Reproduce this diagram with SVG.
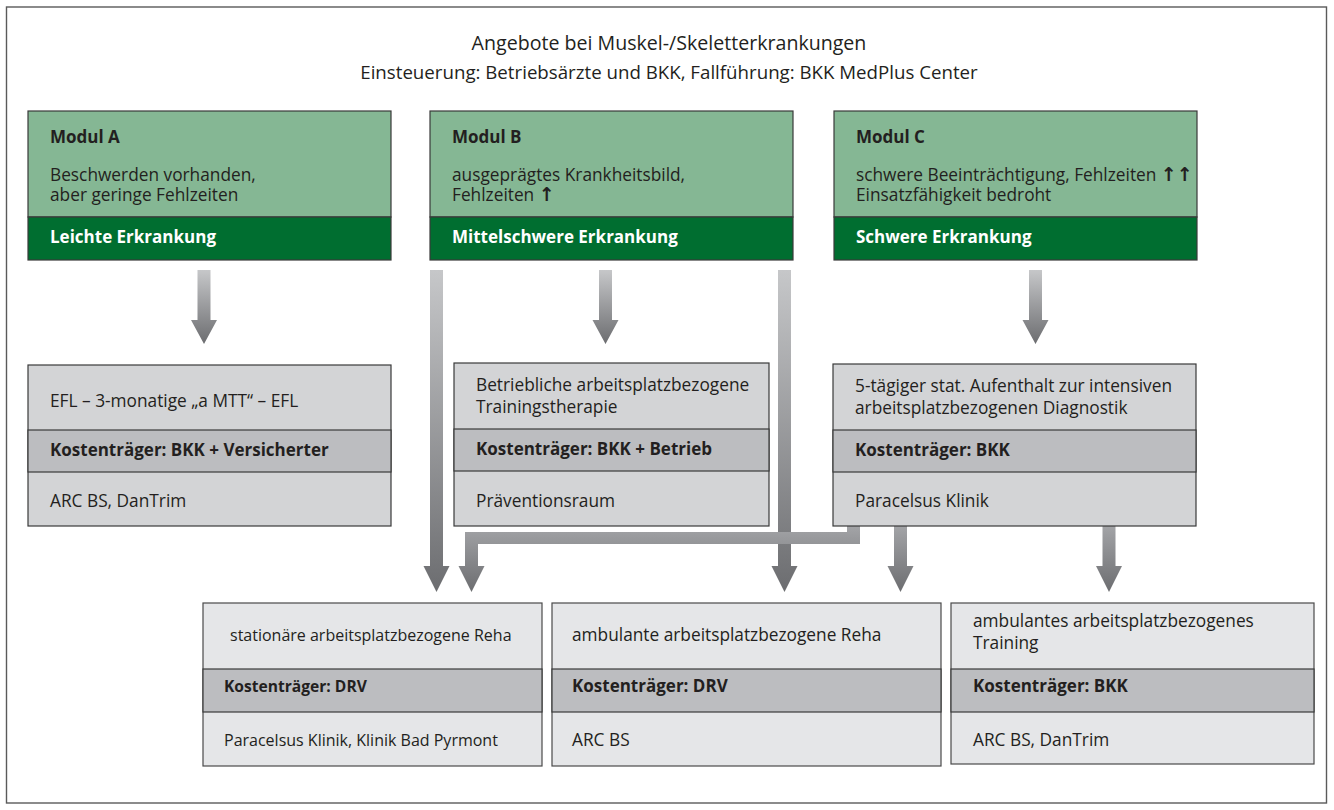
<svg xmlns="http://www.w3.org/2000/svg" width="1334" height="810" viewBox="0 0 1334 810">
<style>
text{font-family:"Open Sans","Noto Sans","Liberation Sans",sans-serif;fill:#231f20;font-size:17.3px}
.b{font-weight:bold;font-size:17px}
.w{fill:#ffffff;font-weight:bold;font-size:17px}
.t{font-size:19.6px}
.st{font-size:18.7px}
.n{font-size:16px}
.nb{font-size:15.6px;font-weight:bold}
.hl{fill:#85b794;stroke:#3a3a3a;stroke-width:1.2}
.hd{fill:#006e30;stroke:#3a3a3a;stroke-width:1.2}
.g1{fill:#d3d4d6;stroke:#3a3a3a;stroke-width:1.2}
.g2{fill:#bcbdc0;stroke:#3a3a3a;stroke-width:1.2}
.g3{fill:#e5e6e8;stroke:#4a4a4a;stroke-width:1.2}
.ar{fill:url(#ag)}
.ar2{fill:url(#ag2)}
.sym{font-family:"DejaVu Sans",sans-serif;font-weight:bold;font-size:19px}
</style>
<defs>
<linearGradient id="ag" x1="0" y1="0" x2="0" y2="1">
<stop offset="0" stop-color="#c6c7c9"/>
<stop offset="1" stop-color="#6c6d70"/>
</linearGradient>
<linearGradient id="ag2" x1="0" y1="0" x2="0" y2="1">
<stop offset="0" stop-color="#a3a4a7"/>
<stop offset="1" stop-color="#6c6d70"/>
</linearGradient>
</defs>
<rect x="6.5" y="7" width="1320" height="796" fill="#ffffff" stroke="#5a5a5a" stroke-width="1.4"/>
<g id="title">
<text class="t" x="669" y="50" text-anchor="middle">Angebote bei Muskel-/Skeletterkrankungen</text>
<text class="st" x="669" y="79" text-anchor="middle">Einsteuerung: Betriebsärzte und BKK, Fallführung: BKK MedPlus Center</text>
</g>
<g id="connectors">
<path class="ar" d="M197.5,270H210.5V320H217L204,344L191,320H197.5Z"/>
<path class="ar" d="M599,270H612V320H618.5L605.5,344L592.5,320H599Z"/>
<path class="ar" d="M1029,270H1042V320H1048.5L1035.5,344L1022.5,320H1029Z"/>
<path class="ar" d="M430,270H443V566H449.5L436.5,592L423.5,566H430Z"/>
<path class="ar" d="M778,270H791V566H797.5L784.5,592L771.5,566H778Z"/>
<path class="ar2" d="M847,526H860V544H478V566H484.5L471.5,592L458.5,566H465V532H847Z"/>
<path class="ar2" d="M894,526H907V566H913.5L900.5,592L887.5,566H894Z"/>
<path class="ar2" d="M1102.5,526H1115.5V566H1122L1109,592L1096,566H1102.5Z"/>
</g>
<g id="modulA">
<rect class="hl" x="28" y="111" width="363" height="106"/>
<rect class="hd" x="28" y="217" width="363" height="43"/>
<text class="b" x="50" y="143">Modul A</text>
<text x="50" y="181">Beschwerden vorhanden,</text>
<text x="50" y="201">aber geringe Fehlzeiten</text>
<text class="w" x="50" y="243">Leichte Erkrankung</text>
</g>
<g id="modulB">
<rect class="hl" x="430" y="111" width="363" height="106"/>
<rect class="hd" x="430" y="217" width="363" height="43"/>
<text class="b" x="452" y="143">Modul B</text>
<text x="452" y="181">ausgeprägtes Krankheitsbild,</text>
<text x="452" y="201">Fehlzeiten <tspan class="sym">↑</tspan></text>
<text class="w" x="452" y="243">Mittelschwere Erkrankung</text>
</g>
<g id="modulC">
<rect class="hl" x="834" y="111" width="363" height="106"/>
<rect class="hd" x="834" y="217" width="363" height="43"/>
<text class="b" x="856" y="143">Modul C</text>
<text x="856" y="181">schwere Beeinträchtigung, Fehlzeiten <tspan class="sym">↑↑</tspan></text>
<text x="856" y="201">Einsatzfähigkeit bedroht</text>
<text class="w" x="856" y="243">Schwere Erkrankung</text>
</g>
<g id="angebotA">
<rect class="g1" x="28" y="365" width="363" height="161"/>
<rect class="g2" x="28" y="430" width="363" height="42"/>
<text x="50" y="407">EFL – 3-monatige „a MTT“ – EFL</text>
<text class="b" x="50" y="456">Kostenträger: BKK + Versicherter</text>
<text x="50" y="507">ARC BS, DanTrim</text>
</g>
<g id="angebotB">
<rect class="g1" x="454" y="363" width="315" height="163"/>
<rect class="g2" x="454" y="429" width="315" height="42"/>
<text x="476" y="391">Betriebliche arbeitsplatzbezogene</text>
<text x="476" y="413">Trainingstherapie</text>
<text class="b" x="476" y="455">Kostenträger: BKK + Betrieb</text>
<text x="476" y="507">Präventionsraum</text>
</g>
<g id="angebotC">
<rect class="g1" x="833" y="364" width="363" height="162"/>
<rect class="g2" x="833" y="430" width="363" height="42"/>
<text x="855" y="392">5-tägiger stat. Aufenthalt zur intensiven</text>
<text x="855" y="414">arbeitsplatzbezogenen Diagnostik</text>
<text class="b" x="855" y="456">Kostenträger: BKK</text>
<text x="855" y="507">Paracelsus Klinik</text>
</g>
<g id="stationaer">
<rect class="g3" x="203" y="603" width="339" height="163"/>
<rect class="g2" x="203" y="669" width="339" height="43"/>
<text class="n" x="230" y="641">stationäre arbeitsplatzbezogene Reha</text>
<text class="nb" x="224" y="692">Kostenträger: DRV</text>
<text class="n" x="224" y="746">Paracelsus Klinik, Klinik Bad Pyrmont</text>
</g>
<g id="ambulant">
<rect class="g3" x="552" y="603" width="389" height="163"/>
<rect class="g2" x="552" y="669" width="389" height="43"/>
<text x="572" y="641">ambulante arbeitsplatzbezogene Reha</text>
<text class="b" x="572" y="692">Kostenträger: DRV</text>
<text x="572" y="746">ARC BS</text>
</g>
<g id="training">
<rect class="g3" x="951" y="603" width="363" height="161"/>
<rect class="g2" x="951" y="669" width="363" height="43"/>
<text x="973" y="627">ambulantes arbeitsplatzbezogenes</text>
<text x="973" y="649">Training</text>
<text class="b" x="973" y="692">Kostenträger: BKK</text>
<text x="973" y="746">ARC BS, DanTrim</text>
</g>
</svg>
